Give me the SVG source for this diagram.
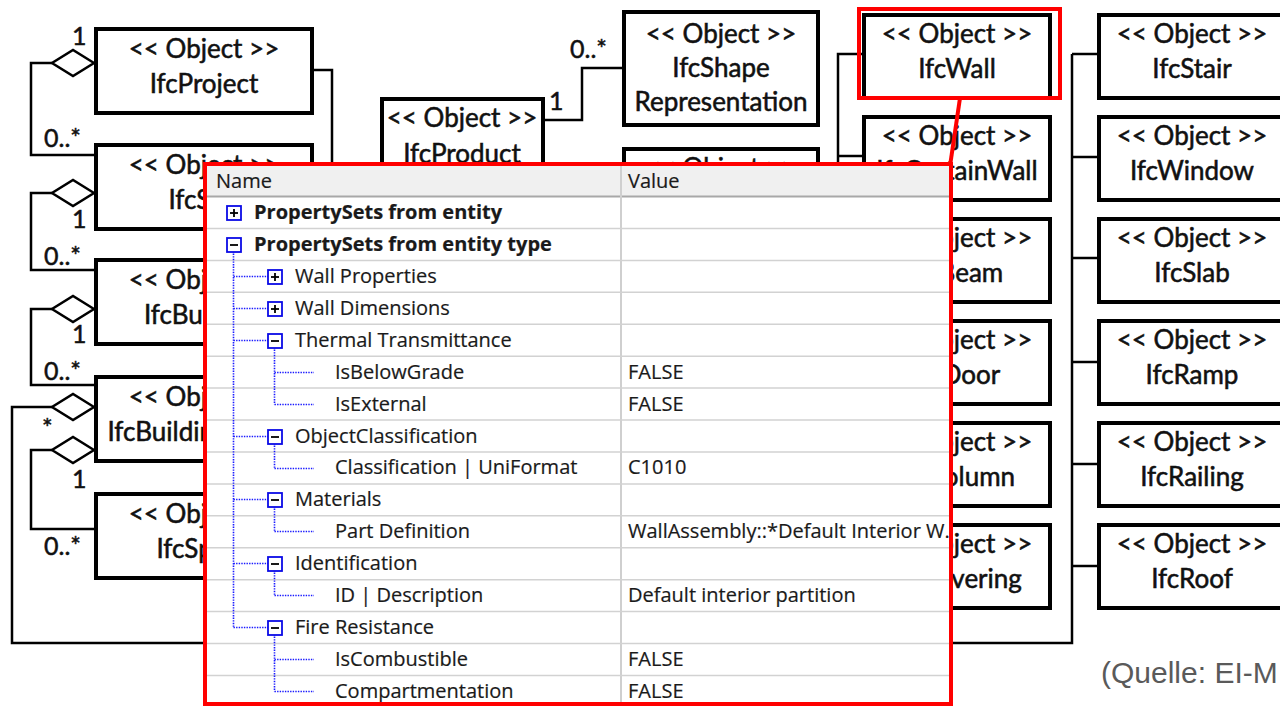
<svg xmlns="http://www.w3.org/2000/svg" width="1280" height="708" viewBox="0 0 1280 708">
  <style>
    .box { fill: #ffffff; stroke: #000000; stroke-width: 4; }
    .t { font-family: Lato, "Liberation Sans", sans-serif; font-size: 26px; fill: #111111; stroke: #111111; stroke-width: 0.55; text-anchor: middle; }
    .lbl { font-family: Lato, "Liberation Sans", sans-serif; font-size: 25px; fill: #111111; stroke: #111111; stroke-width: 0.5; }
    .wire { fill: none; stroke: #000000; stroke-width: 2.5; }
    .dia { fill: #ffffff; stroke: #000000; stroke-width: 2.5; stroke-linejoin: miter; }
    .hl { fill: none; stroke: #ff0000; stroke-width: 4; }
    .grid { stroke: #d2d2d2; stroke-width: 1.5; }
    .pt { font-family: "Open Sans", "Noto Sans", sans-serif; font-size: 20px; fill: #1a1a1a; stroke: #1a1a1a; stroke-width: 0.2; }
    .pb { font-weight: bold; }
    .dot { fill: none; stroke: #1a1aff; stroke-width: 1.6; stroke-dasharray: 1.4 1.2; }
    .exp { fill: #ffffff; stroke: #0a0ae6; stroke-width: 1.8; }
    .sgn { stroke: #000000; stroke-width: 1.8; }
    .src { font-family: "Liberation Sans", Arial, sans-serif; font-size: 30px; fill: #5a5a5a; }
  </style>
  <defs>
    <polygon id="agg" class="dia" points="0,0 -21,-13 -42,0 -21,13"/>
  </defs>

  <rect width="1280" height="708" fill="#ffffff"/>

  <!-- connectors -->
  <g id="connectors">
    <!-- spatial structure chain on the left -->
    <polyline class="wire" points="52,63 31,63 31,155 96,155"/>
    <polyline class="wire" points="52,193 31,193 31,270 96,270"/>
    <polyline class="wire" points="52,309 31,309 31,385 96,385"/>
    <polyline class="wire" points="52,407 12,407 12,643 1072,643 1072,54"/>
    <polyline class="wire" points="52,450 31,450 31,529 96,529"/>
    <!-- IfcProject to the product tree -->
    <polyline class="wire" points="312,70 332,70 332,300"/>
    <!-- IfcProduct to shape representation -->
    <polyline class="wire" points="543,120 582,120 582,68 624,68"/>
    <!-- element subtypes, middle column -->
    <polyline class="wire" points="864,54 838,54 838,564"/>
    <line class="wire" x1="838" y1="156" x2="864" y2="156"/>
    <line class="wire" x1="838" y1="258" x2="864" y2="258"/>
    <line class="wire" x1="838" y1="360" x2="864" y2="360"/>
    <line class="wire" x1="838" y1="462" x2="864" y2="462"/>
    <line class="wire" x1="838" y1="564" x2="864" y2="564"/>
    <!-- element subtypes, right column -->
    <line class="wire" x1="1072" y1="54" x2="1099" y2="54"/>
    <line class="wire" x1="1072" y1="157" x2="1099" y2="157"/>
    <line class="wire" x1="1072" y1="258" x2="1099" y2="258"/>
    <line class="wire" x1="1072" y1="362" x2="1099" y2="362"/>
    <line class="wire" x1="1072" y1="464" x2="1099" y2="464"/>
    <line class="wire" x1="1072" y1="566" x2="1099" y2="566"/>
    <!-- aggregation diamonds -->
    <use href="#agg" x="94" y="63"/>
    <use href="#agg" x="94" y="193"/>
    <use href="#agg" x="94" y="309"/>
    <use href="#agg" x="94" y="407"/>
    <use href="#agg" x="94" y="450"/>
    <!-- multiplicities -->
    <text class="lbl" x="72" y="45">1</text>
    <text class="lbl" x="44" y="147">0..*</text>
    <text class="lbl" x="72" y="228">1</text>
    <text class="lbl" x="44" y="265">0..*</text>
    <text class="lbl" x="72" y="343">1</text>
    <text class="lbl" x="44" y="380">0..*</text>
    <text class="lbl" x="42" y="437">*</text>
    <text class="lbl" x="72" y="488">1</text>
    <text class="lbl" x="44" y="555">0..*</text>
    <text class="lbl" x="549" y="110">1</text>
    <text class="lbl" x="570" y="58">0..*</text>
  </g>

  <!-- left column -->
  <g id="IfcProject"><rect class="box" x="96" y="29" width="216" height="84"/><text class="t" x="204" y="58">&lt;&lt; Object &gt;&gt;</text><text class="t" x="204" y="93">IfcProject</text></g>
  <g id="IfcSite"><rect class="box" x="96" y="145" width="216" height="84"/><text class="t" x="204" y="174">&lt;&lt; Object &gt;&gt;</text><text class="t" x="204" y="209">IfcSite</text></g>
  <g id="IfcBuilding"><rect class="box" x="96" y="260" width="216" height="84"/><text class="t" x="204" y="289">&lt;&lt; Object &gt;&gt;</text><text class="t" x="204" y="324">IfcBuilding</text></g>
  <g id="IfcBuildingStorey"><rect class="box" x="96" y="377" width="216" height="84"/><text class="t" x="204" y="406">&lt;&lt; Object &gt;&gt;</text><text class="t" x="204" y="441">IfcBuildingStorey</text></g>
  <g id="IfcSpace"><rect class="box" x="96" y="494" width="216" height="84"/><text class="t" x="204" y="523">&lt;&lt; Object &gt;&gt;</text><text class="t" x="204" y="558">IfcSpace</text></g>

  <!-- product and representation -->
  <g id="IfcProduct"><rect class="box" x="382" y="99" width="161" height="300"/><text class="t" x="462" y="127">&lt;&lt; Object &gt;&gt;</text><text class="t" x="462" y="163">IfcProduct</text></g>
  <g id="IfcShapeRepresentation"><rect class="box" x="624" y="12" width="194" height="113"/><text class="t" x="721" y="43">&lt;&lt; Object &gt;&gt;</text><text class="t" x="721" y="77">IfcShape</text><text class="t" x="721" y="111">Representation</text></g>
  <g id="IfcObjectBelow"><rect class="box" x="624" y="149" width="194" height="100"/><text class="t" x="721" y="177">&lt;&lt; Object &gt;&gt;</text></g>

  <!-- middle column -->
  <g id="IfcWall"><rect class="box" x="864" y="15" width="186" height="83"/><text class="t" x="957" y="43">&lt;&lt; Object &gt;&gt;</text><text class="t" x="957" y="78">IfcWall</text></g>
  <g id="IfcCurtainWall"><rect class="box" x="864" y="117" width="186" height="83"/><text class="t" x="957" y="145">&lt;&lt; Object &gt;&gt;</text><text class="t" x="957" y="180">IfcCurtainWall</text></g>
  <g id="IfcBeam"><rect class="box" x="864" y="219" width="186" height="83"/><text class="t" x="957" y="247">&lt;&lt; Object &gt;&gt;</text><text class="t" x="957" y="282">IfcBeam</text></g>
  <g id="IfcDoor"><rect class="box" x="864" y="321" width="186" height="83"/><text class="t" x="957" y="349">&lt;&lt; Object &gt;&gt;</text><text class="t" x="957" y="384">IfcDoor</text></g>
  <g id="IfcColumn"><rect class="box" x="864" y="423" width="186" height="83"/><text class="t" x="957" y="451">&lt;&lt; Object &gt;&gt;</text><text class="t" x="957" y="486">IfcColumn</text></g>
  <g id="IfcCovering"><rect class="box" x="864" y="525" width="186" height="83"/><text class="t" x="957" y="553">&lt;&lt; Object &gt;&gt;</text><text class="t" x="957" y="588">IfcCovering</text></g>

  <!-- right column -->
  <g id="IfcStair"><rect class="box" x="1099" y="15" width="190" height="83"/><text class="t" x="1192" y="43">&lt;&lt; Object &gt;&gt;</text><text class="t" x="1192" y="78">IfcStair</text></g>
  <g id="IfcWindow"><rect class="box" x="1099" y="117" width="190" height="83"/><text class="t" x="1192" y="145">&lt;&lt; Object &gt;&gt;</text><text class="t" x="1192" y="180">IfcWindow</text></g>
  <g id="IfcSlab"><rect class="box" x="1099" y="219" width="190" height="83"/><text class="t" x="1192" y="247">&lt;&lt; Object &gt;&gt;</text><text class="t" x="1192" y="282">IfcSlab</text></g>
  <g id="IfcRamp"><rect class="box" x="1099" y="321" width="190" height="83"/><text class="t" x="1192" y="349">&lt;&lt; Object &gt;&gt;</text><text class="t" x="1192" y="384">IfcRamp</text></g>
  <g id="IfcRailing"><rect class="box" x="1099" y="423" width="190" height="83"/><text class="t" x="1192" y="451">&lt;&lt; Object &gt;&gt;</text><text class="t" x="1192" y="486">IfcRailing</text></g>
  <g id="IfcRoof"><rect class="box" x="1099" y="525" width="190" height="83"/><text class="t" x="1192" y="553">&lt;&lt; Object &gt;&gt;</text><text class="t" x="1192" y="588">IfcRoof</text></g>

  <!-- highlight of IfcWall and its callout -->
  <g id="highlight">
    <rect class="hl" x="859" y="9" width="201" height="89"/>
    <line class="hl" x1="960" y1="98" x2="950" y2="166"/>
  </g>

  <!-- property panel -->
  <g id="property-panel">
    <rect x="205" y="164" width="746" height="540" fill="#ffffff"/>
    <rect x="207" y="166" width="742" height="30" fill="#f0f0f0"/>
    <line x1="207" y1="196.5" x2="949" y2="196.5" stroke="#a8a8a8" stroke-width="2"/>
    <line x1="621" y1="166" x2="621" y2="702" stroke="#cfcfcf" stroke-width="2"/>
    <g class="grid">
      <line x1="207" y1="228.4" x2="949" y2="228.4"/>
      <line x1="207" y1="260.4" x2="949" y2="260.4"/>
      <line x1="207" y1="292.3" x2="949" y2="292.3"/>
      <line x1="207" y1="324.2" x2="949" y2="324.2"/>
      <line x1="207" y1="356.2" x2="949" y2="356.2"/>
      <line x1="207" y1="388.1" x2="949" y2="388.1"/>
      <line x1="207" y1="420" x2="949" y2="420"/>
      <line x1="207" y1="452" x2="949" y2="452"/>
      <line x1="207" y1="483.9" x2="949" y2="483.9"/>
      <line x1="207" y1="515.8" x2="949" y2="515.8"/>
      <line x1="207" y1="547.7" x2="949" y2="547.7"/>
      <line x1="207" y1="579.7" x2="949" y2="579.7"/>
      <line x1="207" y1="611.6" x2="949" y2="611.6"/>
      <line x1="207" y1="643.5" x2="949" y2="643.5"/>
      <line x1="207" y1="675.5" x2="949" y2="675.5"/>
    </g>
    <text class="pt" x="216" y="188">Name</text>
    <text class="pt" x="628" y="188">Value</text>

    <!-- tree guides -->
    <g class="dot">
      <line x1="233.5" y1="251" x2="233.5" y2="627.5"/>
      <line x1="233.5" y1="276.5" x2="268" y2="276.5"/>
      <line x1="233.5" y1="308.5" x2="268" y2="308.5"/>
      <line x1="233.5" y1="340.5" x2="268" y2="340.5"/>
      <line x1="233.5" y1="436.5" x2="268" y2="436.5"/>
      <line x1="233.5" y1="499.5" x2="268" y2="499.5"/>
      <line x1="233.5" y1="563.5" x2="268" y2="563.5"/>
      <line x1="233.5" y1="627.5" x2="268" y2="627.5"/>
      <line x1="274.5" y1="347" x2="274.5" y2="404.5"/>
      <line x1="274.5" y1="372.5" x2="314" y2="372.5"/>
      <line x1="274.5" y1="404.5" x2="314" y2="404.5"/>
      <line x1="274.5" y1="443" x2="274.5" y2="468.5"/>
      <line x1="274.5" y1="468.5" x2="314" y2="468.5"/>
      <line x1="274.5" y1="506" x2="274.5" y2="531.5"/>
      <line x1="274.5" y1="531.5" x2="314" y2="531.5"/>
      <line x1="274.5" y1="570" x2="274.5" y2="595.5"/>
      <line x1="274.5" y1="595.5" x2="314" y2="595.5"/>
      <line x1="274.5" y1="634" x2="274.5" y2="691.5"/>
      <line x1="274.5" y1="659.5" x2="314" y2="659.5"/>
      <line x1="274.5" y1="691.5" x2="314" y2="691.5"/>
    </g>

    <!-- expand / collapse boxes -->
    <g>
      <rect class="exp" x="227" y="206" width="14" height="14"/><line class="sgn" x1="230" y1="213" x2="238" y2="213"/><line class="sgn" x1="234" y1="209" x2="234" y2="217"/>
      <rect class="exp" x="227" y="238" width="14" height="14"/><line class="sgn" x1="230" y1="245" x2="238" y2="245"/>
      <rect class="exp" x="268" y="270" width="14" height="14"/><line class="sgn" x1="271" y1="277" x2="279" y2="277"/><line class="sgn" x1="275" y1="273" x2="275" y2="281"/>
      <rect class="exp" x="268" y="302" width="14" height="14"/><line class="sgn" x1="271" y1="309" x2="279" y2="309"/><line class="sgn" x1="275" y1="305" x2="275" y2="313"/>
      <rect class="exp" x="268" y="334" width="14" height="14"/><line class="sgn" x1="271" y1="341" x2="279" y2="341"/>
      <rect class="exp" x="268" y="430" width="14" height="14"/><line class="sgn" x1="271" y1="437" x2="279" y2="437"/>
      <rect class="exp" x="268" y="493" width="14" height="14"/><line class="sgn" x1="271" y1="500" x2="279" y2="500"/>
      <rect class="exp" x="268" y="557" width="14" height="14"/><line class="sgn" x1="271" y1="564" x2="279" y2="564"/>
      <rect class="exp" x="268" y="621" width="14" height="14"/><line class="sgn" x1="271" y1="628" x2="279" y2="628"/>
    </g>

    <!-- names -->
    <text class="pt pb" x="254" y="219">PropertySets from entity</text>
    <text class="pt pb" x="254" y="251">PropertySets from entity type</text>
    <text class="pt" x="295" y="283">Wall Properties</text>
    <text class="pt" x="295" y="315">Wall Dimensions</text>
    <text class="pt" x="295" y="347">Thermal Transmittance</text>
    <text class="pt" x="335" y="379">IsBelowGrade</text>
    <text class="pt" x="335" y="411">IsExternal</text>
    <text class="pt" x="295" y="443">ObjectClassification</text>
    <text class="pt" x="335" y="474">Classification | UniFormat</text>
    <text class="pt" x="295" y="506">Materials</text>
    <text class="pt" x="335" y="538">Part Definition</text>
    <text class="pt" x="295" y="570">Identification</text>
    <text class="pt" x="335" y="602">ID | Description</text>
    <text class="pt" x="295" y="634">Fire Resistance</text>
    <text class="pt" x="335" y="666">IsCombustible</text>
    <text class="pt" x="335" y="698">Compartmentation</text>

    <!-- values -->
    <text class="pt" x="628" y="379">FALSE</text>
    <text class="pt" x="628" y="411">FALSE</text>
    <text class="pt" x="628" y="474">C1010</text>
    <text class="pt" x="628" y="538">WallAssembly::*Default Interior W.</text>
    <text class="pt" x="628" y="602">Default interior partition</text>
    <text class="pt" x="628" y="666">FALSE</text>
    <text class="pt" x="628" y="698">FALSE</text>

    <rect class="hl" x="205" y="164" width="746" height="540"/>
  </g>

  <text class="src" x="1101" y="683">(Quelle: EI-M</text>
</svg>
